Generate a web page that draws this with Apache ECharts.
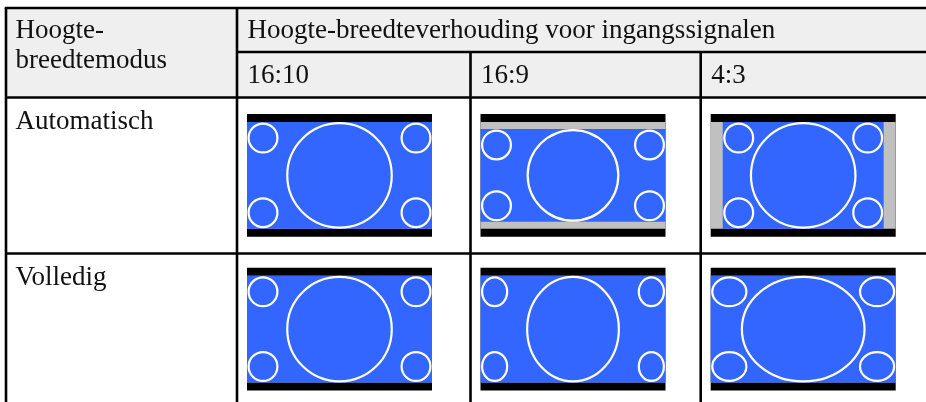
<!DOCTYPE html>
<html><head><meta charset="utf-8">
<script src="https://cdn.jsdelivr.net/npm/echarts@6/dist/echarts.min.js"></script>
<style>html,body{margin:0;padding:0;background:#fff}#c{width:926px;height:402px}</style>
</head><body><div id="c"></div>
<script>
// ---------- data ----------
const modeHeader = ['Hoogte-', 'breedtemodus'];
const signalHeader = 'Hoogte-breedteverhouding voor ingangssignalen';
const signals = ['16:10', '16:9', '4:3'];
const modes = ['Automatisch', 'Volledig'];
// share of the screen width / height filled by the picture (rest grey), per mode x signal
const pictureWidth = [[1, 1, 0.87], [1, 1, 1]];
const pictureHeight = [[1, 0.87, 1], [1, 1, 1]];
// horizontal stretch of the test circles, per mode x signal
const circleStretch = [[1, 1, 1], [1, 0.88, 1.17]];

// ---------- layout (pixel units of the hidden axes) ----------
const colEdges = [6, 237, 470.5, 700.7, 932];
const rowEdges = [8, 52, 97.5, 253.5, 410];
const thumbTop = [114, 267.8];
const FS = 27;
const FONT = FS + 'px "Liberation Serif"';
const LW = 2.6;

function tableItem(params, api) {
  const c = p => api.coord(p);
  const ch = [];
  const a = c([colEdges[0], rowEdges[0]]), b = c([926, rowEdges[2]]);
  ch.push({type: 'rect', shape: {x: a[0], y: a[1], width: b[0] - a[0], height: b[1] - a[1]}, style: {fill: '#efefef'}});
  const line = (x1, y1, x2, y2) => {
    const p = c([x1, y1]), q = c([x2, y2]);
    ch.push({type: 'line', shape: {x1: p[0], y1: p[1], x2: q[0], y2: q[1]}, style: {stroke: '#000', lineWidth: LW}});
  };
  line(colEdges[0] - LW / 2, rowEdges[0], 926, rowEdges[0]);
  line(colEdges[0], rowEdges[0], colEdges[0], 402);
  line(colEdges[1], rowEdges[0], colEdges[1], 402);
  line(colEdges[2], rowEdges[1], colEdges[2], 402);
  line(colEdges[3], rowEdges[1], colEdges[3], 402);
  line(colEdges[1], rowEdges[1], 926, rowEdges[1]);
  line(colEdges[0], rowEdges[2], 926, rowEdges[2]);
  line(colEdges[0], rowEdges[3], 926, rowEdges[3]);
  const text = (str, x, baseline) => {
    const p = c([x, baseline - FS * 0.22]);
    ch.push({type: 'text', style: {text: str, x: p[0], y: p[1], font: FONT, fill: '#111', verticalAlign: 'middle', align: 'left'}});
  };
  text(modeHeader[0], colEdges[0] + 9.5, 36.5);
  text(modeHeader[1], colEdges[0] + 9.5, 66.5);
  text(signalHeader, colEdges[1] + 10.5, 36.5);
  signals.forEach((s, i) => text(s, colEdges[i + 1] + 10.5, 82));
  modes.forEach((m, i) => text(m, colEdges[0] + 9.5, rowEdges[i + 2] + 30));
  return {type: 'group', children: ch};
}

function thumbItem(params, api) {
  const s = api.value(0), m = api.value(1);
  const c = p => api.coord(p);
  const fx = colEdges[s + 1] + 10, fy = thumbTop[m];
  const fw = 185, bar = 8, bh = 106.7;
  const cw = fw * pictureWidth[m][s], chh = bh * pictureHeight[m][s];
  const x0 = fx + (fw - cw) / 2, y0 = fy + bar + (bh - chh) / 2;
  const st = circleStretch[m][s];
  const lw = 2.2;
  const ch = [];
  const rect = (x, y, w, h, fill) => {
    const p = c([x, y]), q = c([x + w, y + h]);
    ch.push({type: 'rect', shape: {x: p[0], y: p[1], width: q[0] - p[0], height: q[1] - p[1]}, style: {fill}});
  };
  const ell = (cx, cy, rxO, ryO) => {
    const p = c([cx, cy]);
    ch.push({type: 'ellipse', shape: {cx: p[0], cy: p[1], rx: rxO - lw / 2, ry: ryO - lw / 2}, style: {fill: null, stroke: '#fff', lineWidth: lw}});
  };
  rect(fx, fy, fw, bh + 2 * bar, '#000');
  rect(fx, fy + bar, fw, bh, '#c0c0c0');
  rect(x0, y0, cw, chh, '#3366ff');
  const bry = chh / 2, brx = bry * st;
  ell(x0 + cw / 2, y0 + chh / 2, brx, bry);
  const sry = 15.5, srx = 15.5 * st, g = 0.5;
  ell(x0 + srx + g, y0 + sry + g, srx, sry);
  ell(x0 + cw - srx - g, y0 + sry + g, srx, sry);
  ell(x0 + srx + g, y0 + chh - sry - g, srx, sry);
  ell(x0 + cw - srx - g, y0 + chh - sry - g, srx, sry);
  return {type: 'group', children: ch};
}

const cells = [];
modes.forEach((m, mi) => signals.forEach((s, si) => cells.push([si, mi])));

const chart = echarts.init(document.getElementById('c'), null, {renderer: 'canvas'});
chart.setOption({
  animation: false,
  grid: {left: 0, top: 0, right: 0, bottom: 0},
  xAxis: {type: 'value', min: 0, max: 926, show: false},
  yAxis: {type: 'value', min: 0, max: 402, inverse: true, show: false},
  series: [
    {type: 'custom', renderItem: tableItem, data: [[0, 0]], silent: true},
    {type: 'custom', renderItem: thumbItem, data: cells, silent: true}
  ]
});
</script>
</body></html>
